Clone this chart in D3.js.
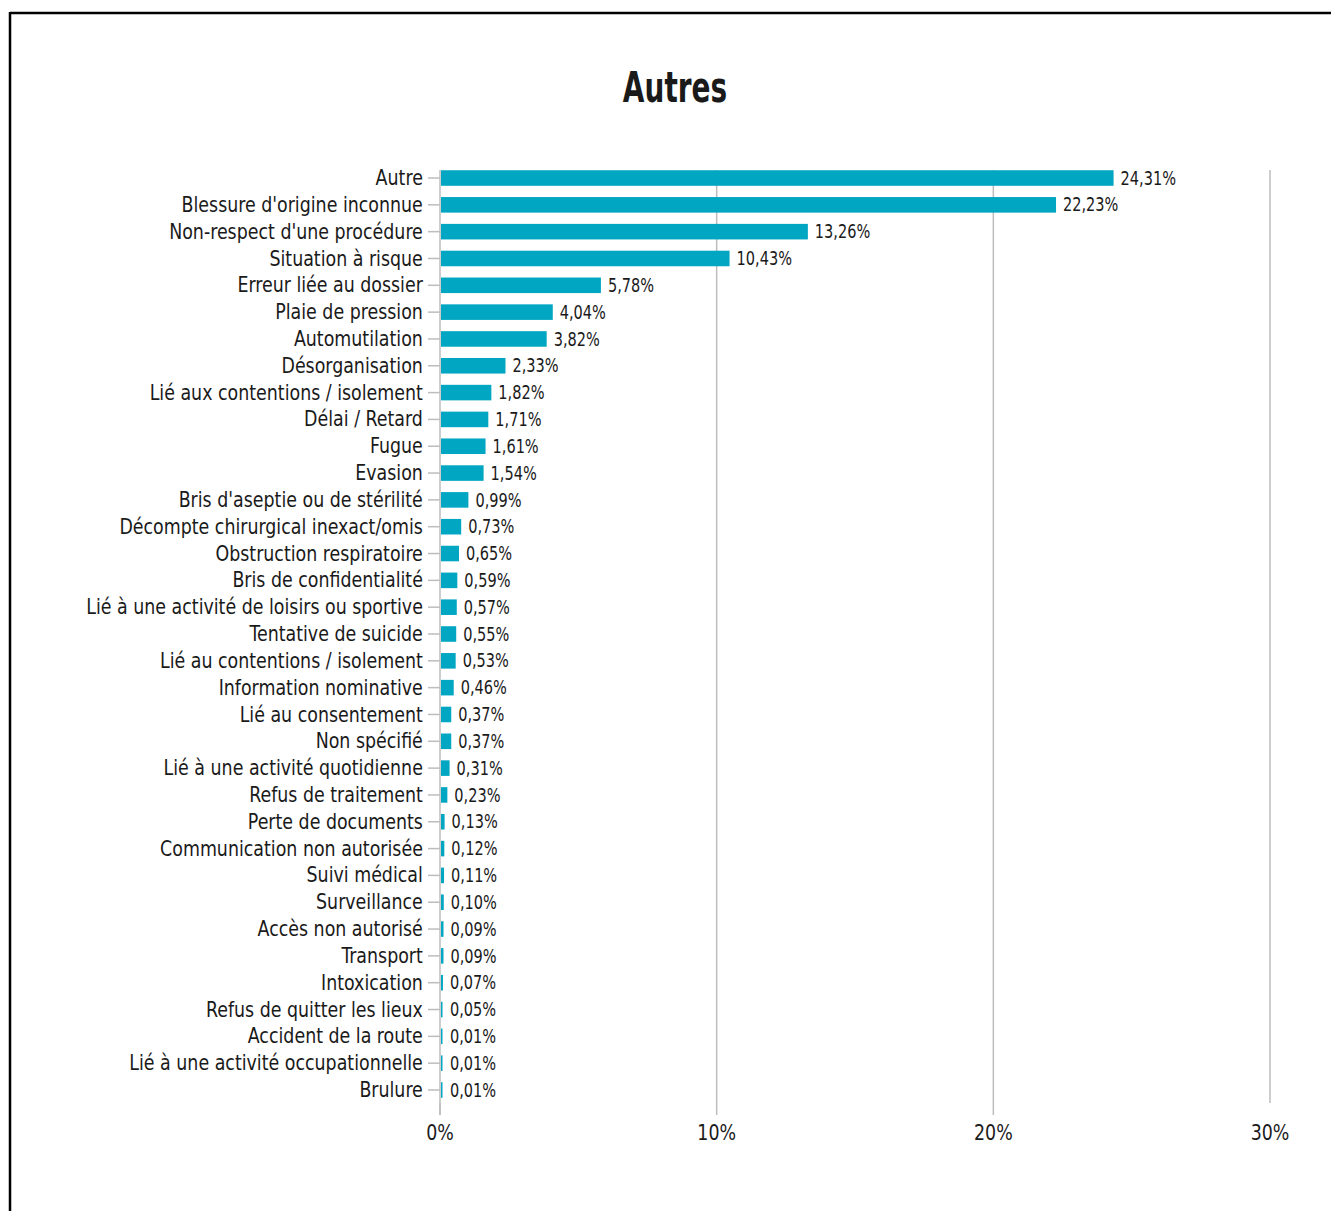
<!DOCTYPE html>
<html><head><meta charset="utf-8">
<script src="https://cdn.jsdelivr.net/npm/d3@7/dist/d3.min.js"></script>
<style>
html,body{margin:0;padding:0;background:#fff;}
svg{display:block;}
text{font-family:"DejaVu Sans Condensed","DejaVu Sans",sans-serif;fill:#1a1a1a;}
</style></head>
<body>
<svg id="chart" width="1331" height="1211"></svg>
<script>
const title = "Autres";
const categories = [
  "Autre","Blessure d'origine inconnue","Non-respect d'une procédure","Situation à risque",
  "Erreur liée au dossier","Plaie de pression","Automutilation","Désorganisation",
  "Lié aux contentions / isolement","Délai / Retard","Fugue","Evasion",
  "Bris d'aseptie ou de stérilité","Décompte chirurgical inexact/omis","Obstruction respiratoire",
  "Bris de confidentialité","Lié à une activité de loisirs ou sportive","Tentative de suicide",
  "Lié au contentions / isolement","Information nominative","Lié au consentement","Non spécifié",
  "Lié à une activité quotidienne","Refus de traitement","Perte de documents",
  "Communication non autorisée","Suivi médical","Surveillance","Accès non autorisé",
  "Transport","Intoxication","Refus de quitter les lieux","Accident de la route",
  "Lié à une activité occupationnelle","Brulure"
];
const values = [
  24.31,22.23,13.26,10.43,5.78,4.04,3.82,2.33,1.82,1.71,1.61,1.54,0.99,0.73,0.65,
  0.59,0.57,0.55,0.53,0.46,0.37,0.37,0.31,0.23,0.13,0.12,0.11,0.10,0.09,0.09,0.07,
  0.05,0.01,0.01,0.01
];
const xTicks = [0,10,20,30];

const svg = d3.select("#chart");
// frame
svg.append("line").attr("x1",10).attr("x2",1331).attr("y1",13).attr("y2",13).attr("stroke","#000").attr("stroke-width",2.5);
svg.append("line").attr("x1",10).attr("x2",10).attr("y1",12).attr("y2",1211).attr("stroke","#000").attr("stroke-width",2.5);

svg.append("text").attr("transform","translate(675,102) scale(0.74,1)").attr("text-anchor","middle")
  .style("font-size","42px").style("font-weight","bold").attr("stroke","#fff").attr("stroke-width",1)
  .attr("paint-order","stroke").text(title);

const x = d3.scaleLinear().domain([0,30]).range([440,1270]);
const y = d3.scaleBand().domain(categories).range([164.6,1103.4]).paddingInner(0.42).paddingOuter(0.21);

// gridlines
svg.append("g").selectAll("line").data(xTicks.slice(1)).join("line")
  .attr("x1",d=>x(d)).attr("x2",d=>x(d)).attr("y1",170).attr("y2",1103)
  .attr("stroke","#bdbdbd").attr("stroke-width",1.5);
// x tick marks below
svg.append("g").selectAll("line").data(xTicks.slice(0,3)).join("line")
  .attr("x1",d=>x(d)).attr("x2",d=>x(d)).attr("y1",1103).attr("y2",1115)
  .attr("stroke","#bdbdbd").attr("stroke-width",1.5);
svg.append("g").selectAll("text").data(xTicks).join("text")
  .attr("transform",d=>`translate(${x(d)},1140) scale(0.88,1)`).attr("text-anchor","middle")
  .style("font-size","22px").text(d=>d+"%");

// y axis
const yAxis = d3.axisLeft(y).tickSize(12).tickPadding(3);
const gy = svg.append("g").attr("transform","translate(440,0)").call(yAxis);
gy.select(".domain").attr("stroke","#bdbdbd").attr("stroke-width",1.5).attr("d","M-0,170V1115");
gy.selectAll(".tick line").attr("stroke","#bdbdbd").attr("stroke-width",1.5);
gy.selectAll(".tick text").style("font-size","22px").style("font-family",null).attr("fill","#1a1a1a")
  .attr("transform","scale(0.88,1)").attr("x",-19.5);

// bars
svg.append("g").selectAll("rect").data(values).join("rect")
  .attr("x",x(0)+1).attr("y",(d,i)=>y(categories[i]))
  .attr("width",d=>Math.max(x(d)-x(0),1.5)).attr("height",y.bandwidth())
  .attr("fill","#00a6c2");

// value labels
svg.append("g").selectAll("text").data(values).join("text")
  .attr("transform",(d,i)=>`translate(${Math.max(x(d),x(0)+2)+8},${y(categories[i])+y.bandwidth()/2}) scale(0.85,1)`)
  .attr("dy","0.35em").style("font-size","19px")
  .text(d=>d3.format(".2f")(d).replace(".",",")+"%");
</script>
</body></html>
